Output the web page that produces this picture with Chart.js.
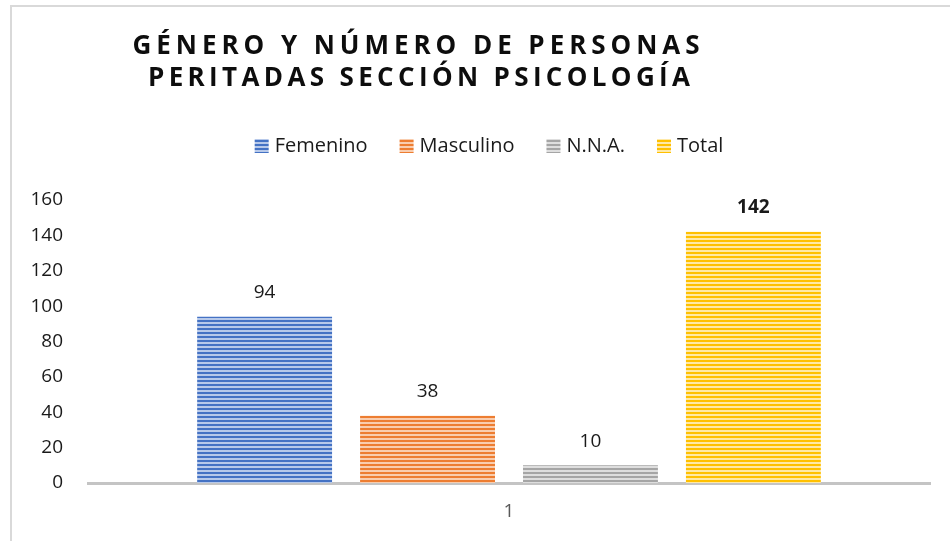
<!DOCTYPE html>
<html>
<head>
<meta charset="utf-8">
<script src="https://cdn.jsdelivr.net/npm/chart.js@4"></script>
<style>
  html, body { margin: 0; padding: 0; background: #fff; overflow: hidden; }
  #wrap { width: 950px; height: 541px; }
</style>
</head>
<body>
<div id="wrap"><canvas id="chart" width="950" height="541"></canvas></div>
<script>
// chart data
const categories = ['1'];
const seriesNames = ['Femenino', 'Masculino', 'N.N.A.', 'Total'];
const femenino = [94];
const masculino = [38];
const nna = [10];
const total = [142];
const yTicks = [0, 20, 40, 60, 80, 100, 120, 140, 160];
const titleLines = ['GÉNERO Y NÚMERO DE PERSONAS', 'PERITADAS SECCIÓN PSICOLOGÍA'];

const FONT = '"Open Sans", Lato, sans-serif';

// striped fill like the office "horizontal lines" pattern
function stripes(dark, light) {
  const c = document.createElement('canvas');
  c.width = 4; c.height = 4;
  const g = c.getContext('2d');
  g.fillStyle = light; g.fillRect(0, 0, 4, 4);
  g.fillStyle = dark; g.fillRect(0, 0, 4, 2);
  return g.createPattern(c, 'repeat');
}
const ctx = document.getElementById('chart').getContext('2d');
const fills = [
  stripes('#4472C4', '#B7C9EA'),
  stripes('#ED7D31', '#F9CDAE'),
  stripes('#A5A5A5', '#DEDEDE'),
  stripes('#FFC000', '#FFE9A6')
];

// frame, title, legend and value labels
const decor = {
  id: 'decor',
  afterDraw(chart) {
    const c = chart.ctx;
    c.save();
    // outer frame
    c.strokeStyle = '#D9D9D9';
    c.lineWidth = 2;
    c.beginPath();
    c.moveTo(11, 541); c.lineTo(11, 6); c.lineTo(950, 6);
    c.stroke();

    // title with letter spacing
    c.fillStyle = '#0D0D0D';
    c.font = 'bold 26px ' + FONT;
    c.textBaseline = 'alphabetic';
    c.textAlign = 'left';
    const spec = [[416, 54, 567], [419, 86, 542]];
    titleLines.forEach((t, i) => {
      c.letterSpacing = '0px';
      const w = c.measureText(t).width;
      const ls = (spec[i][2] - w) / (t.length - 1);
      c.letterSpacing = ls + 'px';
      c.fillText(t, spec[i][0] - spec[i][2] / 2, spec[i][1]);
    });
    c.letterSpacing = '0px';

    // legend
    c.font = '20px ' + FONT;
    c.textBaseline = 'middle';
    const box = 14, gapBox = 6, gapItem = 32;
    let widths = seriesNames.map(n => box + gapBox + c.measureText(n).width);
    let totalW = widths.reduce((a, b) => a + b, 0) + gapItem * (seriesNames.length - 1);
    let x = 489 - totalW / 2;
    seriesNames.forEach((n, i) => {
      c.fillStyle = fills[i];
      c.fillRect(x, 139, box, box);
      c.fillStyle = '#1A1A1A';
      c.fillText(n, x + box + gapBox, 146);
      x += widths[i] + gapItem;
    });

    // value labels over bars
    c.textAlign = 'center';
    chart.data.datasets.forEach((ds, i) => {
      const meta = chart.getDatasetMeta(i);
      meta.data.forEach((bar, j) => {
        c.font = (i === 3 ? 'bold ' : '') + '19px ' + FONT;
        c.fillStyle = '#1A1A1A';
        c.fillText(ds.data[j], bar.x, bar.y - 24);
      });
    });
    c.restore();
  }
};

new Chart(ctx, {
  type: 'bar',
  data: {
    labels: categories,
    datasets: [
      { label: seriesNames[0], data: femenino, backgroundColor: fills[0] },
      { label: seriesNames[1], data: masculino, backgroundColor: fills[1] },
      { label: seriesNames[2], data: nna, backgroundColor: fills[2] },
      { label: seriesNames[3], data: total, backgroundColor: fills[3] }
    ]
  },
  options: {
    responsive: false,
    animation: false,
    categoryPercentage: 0.774,
    barPercentage: 0.828,
    layout: { padding: { top: 200, left: 11, right: 20, bottom: 0 } },
    plugins: {
      legend: { display: false },
      title: { display: false },
      tooltip: { enabled: false }
    },
    scales: {
      x: {
        grid: { display: false, drawTicks: false },
        border: { display: true, color: '#C4C4C4', width: 3 },
        ticks: { color: '#595959', font: { family: FONT, size: 19 }, padding: 17 },
        afterFit(s) { s.height = 58; }
      },
      y: {
        min: 0,
        max: yTicks[yTicks.length - 1],
        grid: { display: false, drawTicks: false },
        border: { display: false },
        afterBuildTicks(s) { s.ticks = yTicks.map(v => ({ value: v })); },
        ticks: { color: '#1A1A1A', font: { family: FONT, size: 19 }, padding: 25 },
        afterFit(s) { s.width = 77; }
      }
    }
  },
  plugins: [decor]
});
</script>
</body>
</html>
